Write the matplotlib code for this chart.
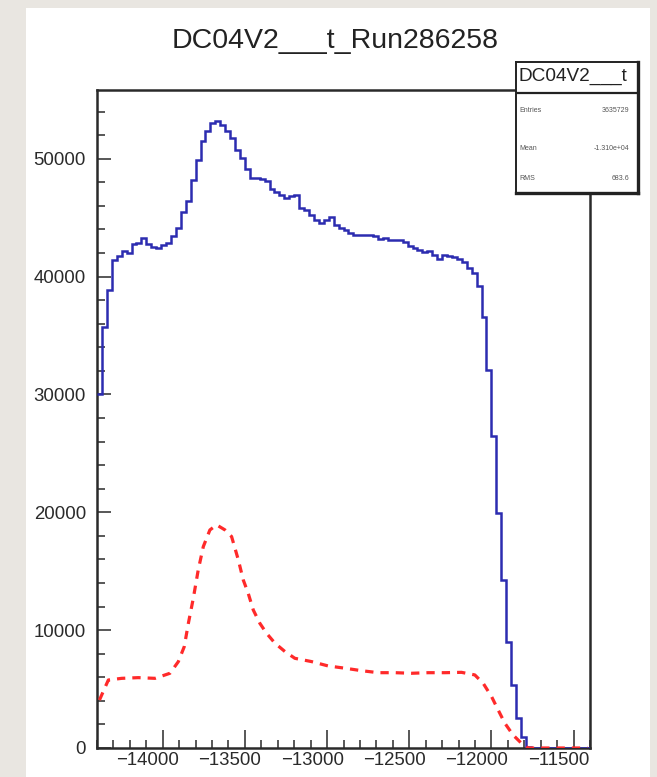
import numpy as np
import matplotlib
matplotlib.use("Agg")
import matplotlib.pyplot as plt
from matplotlib.patches import Rectangle
from matplotlib.ticker import MultipleLocator
from matplotlib.transforms import ScaledTranslation

plt.rcParams["font.family"] = ["Liberation Sans", "DejaVu Sans"]

# histogram binning (30 units per bin)
bin_lo = -14400
bin_hi = -11400
bin_width = 30

# blue histogram, counts per bin
blue_counts = [
    30000, 35760, 38880, 41430, 41710, 42130, 41990, 42780, 42840, 43270,
    42760, 42500, 42420, 42700, 42840, 43460, 44110, 45440, 46380, 48220,
    49860, 51470, 52320, 53030, 53170, 52890, 52320, 51750, 50710, 50060,
    49120, 48360, 48360, 48300, 48080, 47430, 47140, 46950, 46660, 46800,
    46950, 45810, 45670, 45250, 44820, 44540, 44820, 45050, 44400, 44110,
    43920, 43690, 43520, 43520, 43520, 43490, 43410, 43180, 43290, 43070,
    43120, 43120, 42900, 42560, 42420, 42280, 42050, 42130, 41850, 41490,
    41850, 41710, 41660, 41490, 41200, 40700, 40300, 39200, 36610, 32090,
    26430, 19920, 14260, 9020, 5350, 2520, 960, 110, 0, 0,
    0, 0, 0, 0, 0, 0, 0, 0, 0, 0,
]

# red dashed curve
red_x = [-14385, -14331, -14250, -14149, -14047, -13956, -13905, -13869, -13844,
         -13814, -13784, -13753, -13713, -13672, -13621, -13581, -13540, -13510,
         -13480, -13449, -13409, -13368, -13317, -13256, -13196, -13094, -12993,
         -12891, -12790, -12689, -12587, -12486, -12385, -12283, -12182, -12101,
         -12050, -11999, -11959, -11918, -11868, -11817, -11776, -11415]
red_y = [4070, 5770, 5910, 5970, 5910, 6340, 7330, 8600, 10580,
         12700, 15110, 17090, 18500, 18930, 18500, 17940, 15960, 14260,
         13130, 11710, 10580, 9730, 8890, 8180, 7610, 7330, 6960,
         6770, 6560, 6390, 6390, 6340, 6390, 6390, 6420, 6200,
         5490, 4360, 3230, 2100, 1100, 400, 0, 0]

x_major = [-14000, -13500, -13000, -12500, -12000, -11500]
y_major = [0, 10000, 20000, 30000, 40000, 50000]

title = "DC04V2___t_Run286258"
stats_name = "DC04V2___t"
stats_rows = [("Entries", "3635729"), ("Mean", "-1.310e+04"), ("RMS", "683.6")]

W, H = 657, 777
fig = plt.figure(figsize=(W / 100, H / 100), dpi=100, facecolor="#e9e6e1")

# white canvas on the textured background
fig.add_artist(Rectangle((26 / W, 0), (650 - 26) / W, (H - 8) / H,
                         transform=fig.transFigure, facecolor="white",
                         edgecolor="none", zorder=0))

ax = fig.add_axes([97 / W, (H - 748) / H, (590 - 97) / W, (748 - 90) / H])
ax.set_facecolor("white")

edges = np.arange(bin_lo, bin_hi + 1, bin_width)
ax.stairs(blue_counts, edges, baseline=None, color="#2c2cb0", lw=1.8, zorder=3)
ax.plot(red_x, red_y, color="#ff2a2a", lw=2.3, ls=(0, (2.6, 2.2)), zorder=4)

ax.set_xlim(bin_lo, bin_hi)
ax.set_ylim(0, 1.05 * max(blue_counts))

ax.set_xticks(x_major)
ax.set_yticks(y_major)
ax.xaxis.set_minor_locator(MultipleLocator(100))
ax.yaxis.set_minor_locator(MultipleLocator(2000))

for s in ax.spines.values():
    s.set_linewidth(1.8)
    s.set_color("#2a2a2a")

ax.tick_params(axis="both", which="both", direction="in", top=False, right=False,
               color="#2a2a2a", width=1.1, labelsize=13.4, labelcolor="#2a2a2a")
ax.tick_params(axis="x", which="major", length=13, pad=3)
ax.tick_params(axis="x", which="minor", length=6)
ax.tick_params(axis="y", which="major", length=10, pad=8)
ax.tick_params(axis="y", which="minor", length=6)

# x labels sit a little left of their ticks in the original
shift = ScaledTranslation(-15 / 100, 0, fig.dpi_scale_trans)
for lbl in ax.get_xticklabels():
    lbl.set_transform(lbl.get_transform() + shift)

fig.text(335 / W, (H - 41) / H, title, ha="center", va="center",
         fontsize=20.5, color="#222222")

# stats box in the top right corner
bx = fig.add_axes([516 / W, (H - 193) / H, (638 - 516) / W, (193 - 62) / H])
bx.set_xlim(0, 1)
bx.set_ylim(0, 1)
bx.set_xticks([])
bx.set_yticks([])
bx.set_facecolor("white")
for side, s in bx.spines.items():
    s.set_color("#222222")
    s.set_linewidth(2.4 if side in ("right", "bottom") else 1.4)
bx.axhline(1 - (93 - 62) / (193 - 62), color="#222222", lw=1.6)
bx.text(0.02, 1 - (76 - 62) / (193 - 62), stats_name, ha="left", va="center",
        fontsize=13.7, color="#222222")
row_y = [110, 149, 178]
for (lab, val), yy in zip(stats_rows, row_y):
    yf = 1 - (yy - 62) / (193 - 62)
    bx.text(0.03, yf, lab, ha="left", va="center", fontsize=5, color="#555555")
    bx.text(0.93, yf, val, ha="right", va="center", fontsize=5, color="#555555")

fig.savefig("out.png", dpi=100, facecolor=fig.get_facecolor())
